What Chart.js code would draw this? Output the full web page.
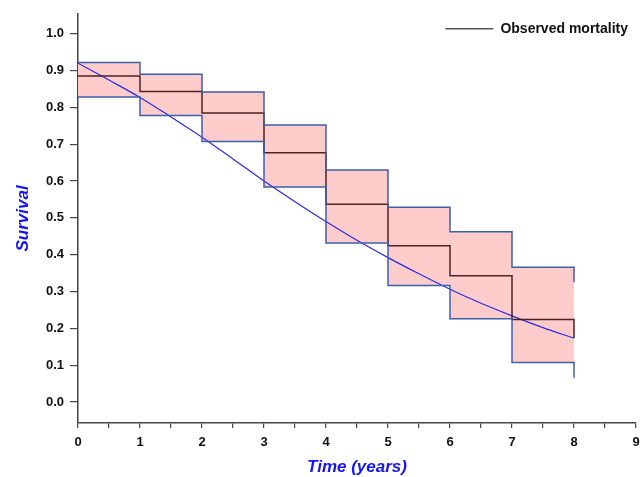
<!DOCTYPE html>
<html lang="en">
<head>
    <meta charset="UTF-8">
    <title>Survival</title>
    <script src="https://cdn.jsdelivr.net/npm/chart.js"></script>
    <style>
        html, body { margin: 0; padding: 0; background: #fff; }
        .box { width: 641px; height: 477px; position: relative; }
    </style>
</head>
<body>
    <div class="box">
        <canvas id="survChart"></canvas>
    </div>

    <script>
        // step positions (last year repeated for the closing drop)
        const stepYears = [0, 1, 2, 3, 4, 5, 6, 7, 8, 8];
        const upperBound = [0.922, 0.890, 0.842, 0.752, 0.630, 0.529, 0.462, 0.366, 0.366, 0.325];
        const lowerBound = [0.828, 0.778, 0.707, 0.584, 0.432, 0.316, 0.226, 0.107, 0.107, 0.066];
        const observed = [0.885, 0.843, 0.785, 0.677, 0.537, 0.424, 0.343, 0.224, 0.224, 0.174];

        // fitted survival curve
        const fitYears = [0, 0.5, 1, 1.5, 2, 2.5, 3, 3.5, 4, 4.5, 5, 5.5, 6, 6.5, 7, 7.5, 8];
        const fitSurvival = [0.920, 0.874, 0.827, 0.774, 0.719, 0.660, 0.600, 0.544, 0.490, 0.439, 0.392, 0.348, 0.306, 0.268, 0.234, 0.202, 0.173];

        const legendLabel = 'Observed mortality';

        const pts = (xs, ys) => xs.map((x, i) => ({ x, y: ys[i] }));
        const FONT = '"Liberation Sans", Arial, sans-serif';
        const AXIS = '#444';
        const TITLE_BLUE = '#1515f0';

        // legend drawn inside the plot, top right
        const legendInside = {
            id: 'legendInside',
            afterDraw(chart) {
                const { ctx, chartArea } = chart;
                const y = chartArea.top + 15;
                const right = chartArea.right - 8;
                ctx.save();
                ctx.font = 'bold 14px ' + FONT;
                ctx.textAlign = 'right';
                ctx.textBaseline = 'middle';
                ctx.fillStyle = '#111';
                ctx.fillText(legendLabel, right, y);
                const w = ctx.measureText(legendLabel).width;
                ctx.strokeStyle = '#555';
                ctx.lineWidth = 1.5;
                ctx.beginPath();
                ctx.moveTo(right - w - 55, y);
                ctx.lineTo(right - w - 7, y);
                ctx.stroke();
                ctx.restore();
            }
        };

        new Chart(document.getElementById('survChart'), {
            type: 'line',
            data: {
                datasets: [
                    {
                        label: 'upper',
                        data: pts(stepYears, upperBound),
                        stepped: true,
                        borderColor: '#3f5ea8',
                        borderWidth: 1.5,
                        backgroundColor: '#ffcccc',
                        fill: '+1',
                        pointRadius: 0
                    },
                    {
                        label: 'lower',
                        data: pts(stepYears, lowerBound),
                        stepped: true,
                        borderColor: '#3f5ea8',
                        borderWidth: 1.5,
                        fill: false,
                        pointRadius: 0
                    },
                    {
                        label: legendLabel,
                        data: pts(stepYears, observed),
                        stepped: true,
                        borderColor: '#4a2222',
                        borderWidth: 1.5,
                        fill: false,
                        pointRadius: 0
                    },
                    {
                        label: 'fit',
                        data: pts(fitYears, fitSurvival),
                        borderColor: '#2b2be6',
                        borderWidth: 1.2,
                        cubicInterpolationMode: 'monotone',
                        fill: false,
                        pointRadius: 0
                    }
                ]
            },
            options: {
                responsive: true,
                maintainAspectRatio: false,
                animation: false,
                layout: { padding: { top: 12, right: 5, left: 0, bottom: 0 } },
                plugins: {
                    legend: { display: false },
                    tooltip: { enabled: false },
                    filler: { drawTime: 'beforeDatasetsDraw' }
                },
                scales: {
                    x: {
                        type: 'linear',
                        min: 0,
                        max: 9,
                        afterFit: s => { s.height = 54; s.paddingLeft = 0; s.paddingRight = 0; },
                        border: { display: true, color: AXIS, width: 1.5 },
                        grid: { drawOnChartArea: false, color: AXIS, tickLength: 5, lineWidth: 1.2 },
                        ticks: {
                            stepSize: 0.5,
                            autoSkip: false,
                            maxRotation: 0,
                            padding: 7,
                            color: '#111',
                            font: { family: FONT, size: 13, weight: 'bold' },
                            callback: v => Number.isInteger(v) ? String(v) : ''
                        },
                        title: {
                            display: true,
                            text: 'Time (years)',
                            color: TITLE_BLUE,
                            padding: { top: 0, bottom: -1 },
                            font: { family: FONT, size: 17, weight: 'bold', style: 'italic' }
                        }
                    },
                    y: {
                        min: -0.057,
                        max: 1.054,
                        afterFit: s => { s.width = 78; },
                        border: { display: true, color: AXIS, width: 1.5 },
                        grid: { drawOnChartArea: false, color: AXIS, tickLength: 8, lineWidth: 1.2 },
                        ticks: {
                            stepSize: 0.1,
                            includeBounds: false,
                            padding: 6,
                            color: '#111',
                            font: { family: FONT, size: 13, weight: 'bold' },
                            callback: v => v.toFixed(1)
                        },
                        title: {
                            display: true,
                            text: 'Survival',
                            color: TITLE_BLUE,
                            padding: { top: 13, bottom: 0 },
                            font: { family: FONT, size: 17, weight: 'bold', style: 'italic' }
                        }
                    }
                }
            },
            plugins: [legendInside]
        });
    </script>
</body>
</html>
